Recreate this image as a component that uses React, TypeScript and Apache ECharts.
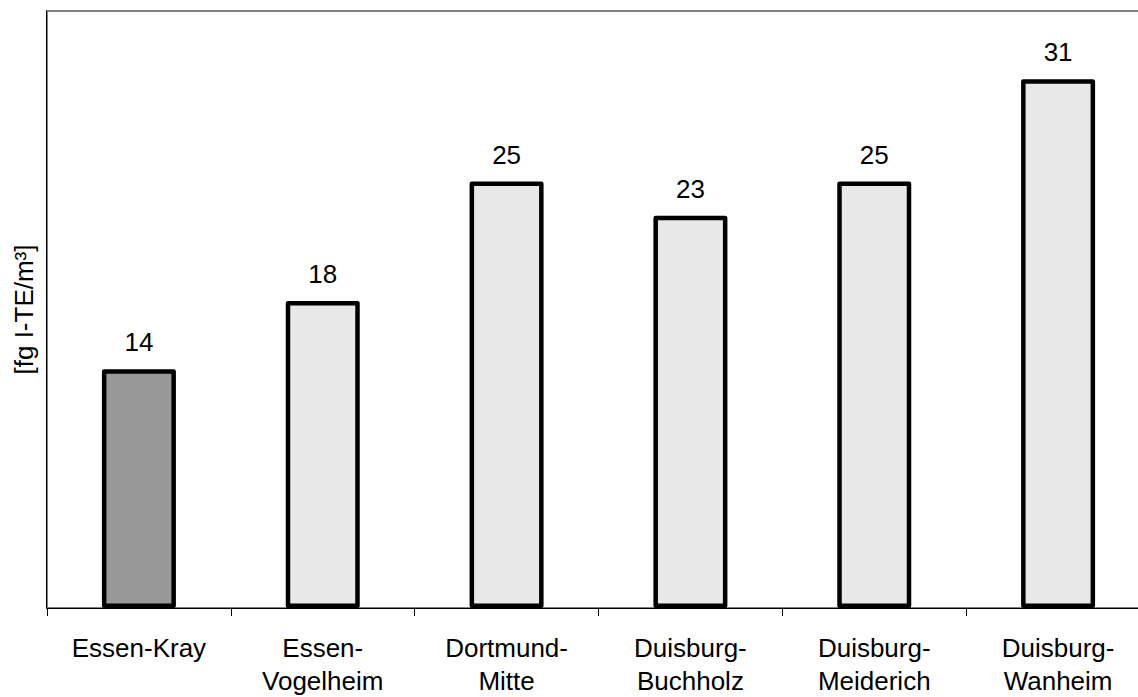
import React, { useEffect, useRef } from "react";
import * as echarts from "echarts";

const categories = [
  "Essen-Kray",
  "Essen-\nVogelheim",
  "Dortmund-\nMitte",
  "Duisburg-\nBuchholz",
  "Duisburg-\nMeiderich",
  "Duisburg-\nWanheim",
];
const values = [14, 18, 25, 23, 25, 31];
const barColors = ["#999999", "#e8e8e8", "#e8e8e8", "#e8e8e8", "#e8e8e8", "#e8e8e8"];
const yAxisName = "[fg I-TE/m³]";
const yMin = 0;
const yMax = 35;

const FONT = '"Liberation Sans", Arial, Helvetica, sans-serif';

export default function App() {
  const ref = useRef<HTMLDivElement>(null);

  useEffect(() => {
    if (!ref.current) return;
    const chart = echarts.init(ref.current, undefined, { renderer: "svg" });
    chart.setOption({
      animation: false,
      backgroundColor: "#ffffff",
      textStyle: { fontFamily: FONT },
      grid: {
        left: 47,
        right: 0,
        top: 11,
        bottom: 86,
        show: true,
        borderColor: "#808080",
        borderWidth: 2,
        backgroundColor: "transparent",
      },
      xAxis: {
        type: "category",
        data: categories,
        offset: 1,
        axisLine: { show: true, lineStyle: { color: "#000000", width: 1 } },
        axisTick: { show: true, length: 8, lineStyle: { color: "#000000", width: 1 } },
        axisLabel: {
          interval: 0,
          margin: 22,
          fontSize: 26,
          lineHeight: 33,
          color: "#000000",
          fontFamily: FONT,
          align: "center",
        },
        splitLine: { show: false },
      },
      yAxis: {
        type: "value",
        min: yMin,
        max: yMax,
        offset: 1,
        name: yAxisName,
        nameLocation: "middle",
        nameRotate: 90,
        nameGap: 9,
        nameTextStyle: { fontSize: 26, color: "#000000", fontFamily: FONT },
        axisLine: { show: true, lineStyle: { color: "#000000", width: 1 } },
        axisTick: { show: false },
        axisLabel: { show: false },
        splitLine: { show: false },
      },
      series: [
        {
          type: "bar",
          barWidth: 74,
          data: values.map((v, i) => ({
            value: v,
            itemStyle: { color: barColors[i] },
          })),
          itemStyle: {
            borderColor: "#000000",
            borderWidth: 4.5,
            borderJoin: "round",
          },
          label: {
            show: true,
            position: "top",
            distance: 14,
            fontSize: 26,
            lineHeight: 26,
            color: "#000000",
            fontFamily: FONT,
          },
        },
      ],
    });
    return () => chart.dispose();
  }, []);

  return (
    <div
      style={{ position: "fixed", left: 0, top: 0, width: 1138, height: 697, overflow: "hidden", background: "#ffffff" }}
    >
      <div ref={ref} style={{ position: "absolute", left: 0, top: 0, width: 1150, height: 697 }} />
    </div>
  );
}
